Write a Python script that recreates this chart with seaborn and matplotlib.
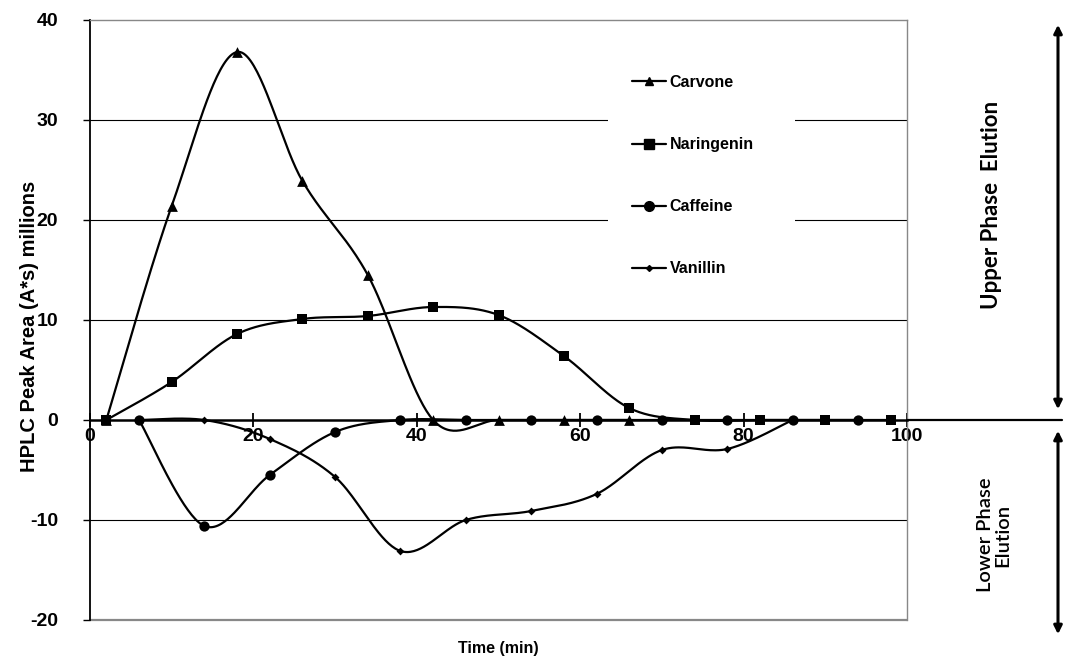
import numpy as np
import pandas as pd
import seaborn as sns
import matplotlib
matplotlib.use("Agg")
import matplotlib.pyplot as plt
from matplotlib.lines import Line2D
from matplotlib.patches import Rectangle
import matplotlib.transforms as mtransforms

# ---------------- data ----------------
carvone_t = [2, 10, 18, 26, 34, 42, 50, 58, 66]
carvone_v = [0, 21.4, 36.8, 23.9, 14.5, 0, 0, 0, 0]

naringenin_t = [2, 10, 18, 26, 34, 42, 50, 58, 66, 74, 82, 90, 98]
naringenin_v = [0, 3.8, 8.6, 10.1, 10.4, 11.3, 10.5, 6.4, 1.2, 0, 0, 0, 0]

caffeine_t = [6, 14, 22, 30, 38, 46, 54, 62, 70, 78, 86, 94]
caffeine_v = [0, -10.6, -5.5, -1.2, 0, 0, 0, 0, 0, 0, 0, 0]

vanillin_t = [6, 14, 22, 30, 38, 46, 54, 62, 70, 78, 86]
vanillin_v = [0, 0, -1.9, -5.7, -13.1, -10.0, -9.1, -7.4, -3.0, -2.9, 0]

series_names = ["Carvone", "Naringenin", "Caffeine", "Vanillin"]
x_ticks = [0, 20, 40, 60, 80, 100]
y_ticks = [-20, -10, 0, 10, 20, 30, 40]

# ---------------- style ----------------
sns.set_theme(style="white")
plt.rcParams["font.family"] = ["Liberation Sans", "DejaVu Sans"]
plt.rcParams["font.weight"] = "bold"
plt.rcParams["text.color"] = "black"
plt.rcParams["axes.labelcolor"] = "black"
plt.rcParams["xtick.color"] = "black"
plt.rcParams["ytick.color"] = "black"

W, H = 1089, 666
fig = plt.figure(figsize=(W / 100, H / 100), dpi=100)
L, R, T, B = 90, 907, 20, 620
ax = fig.add_axes([L / W, 1 - B / H, (R - L) / W, (B - T) / H])


def smooth(xs, ys, n=40):
    """Excel-style smoothed line through the points (Bezier / Catmull-Rom)."""
    P = np.column_stack([xs, ys]).astype(float)
    Pe = np.vstack([P[0], P, P[-1]])
    out = []
    for i in range(1, len(Pe) - 2):
        p0, p1, p2, p3 = Pe[i - 1], Pe[i], Pe[i + 1], Pe[i + 2]
        c1 = p1 + (p2 - p0) / 6.0
        c2 = p2 - (p3 - p1) / 6.0
        t = np.linspace(0, 1, n)[:, None]
        seg = ((1 - t) ** 3) * p1 + 3 * ((1 - t) ** 2) * t * c1 + 3 * (1 - t) * t ** 2 * c2 + t ** 3 * p2
        out.append(seg if i == 1 else seg[1:])
    s = np.vstack(out)
    return s[:, 0], s[:, 1]


series = [
    (carvone_t, carvone_v, "^", 60),
    (naringenin_t, naringenin_v, "s", 60),
    (caffeine_t, caffeine_v, "o", 55),
    (vanillin_t, vanillin_v, "D", 16),
]

for (tx, vy, mk, sz), name in zip(series, series_names):
    sx, sy = smooth(tx, vy)
    sns.lineplot(x=sx, y=sy, sort=False, ax=ax, color="black", lw=1.6, zorder=3)
    sns.scatterplot(x=tx, y=vy, ax=ax, marker=mk, s=sz, color="black",
                    edgecolor="black", linewidth=0, zorder=4)

ax.set_xlim(0, 100)
ax.set_ylim(-20, 40)
ax.set_xticks(x_ticks)
ax.set_yticks(y_ticks)
ax.set_xticklabels([str(v) for v in x_ticks])
ax.set_yticklabels([str(v) for v in y_ticks])

# gridlines
for yv in y_ticks:
    if yv not in (0, -20, 40):
        ax.axhline(yv, color="black", lw=0.8, zorder=0.5)

# spines
ax.spines["bottom"].set_position(("data", 0))
ax.spines["bottom"].set_color("black")
ax.spines["bottom"].set_linewidth(1.8)
ax.spines["bottom"].set_zorder(2.5)
ax.spines["left"].set_color("black")
ax.spines["left"].set_linewidth(1.3)
ax.spines["top"].set_color("#888888")
ax.spines["right"].set_color("#888888")
ax.spines["top"].set_linewidth(1.0)
ax.spines["right"].set_linewidth(1.0)
ax.axhline(-20, color="#888888", lw=1.6, zorder=0.5, clip_on=False)

ax.tick_params(axis="x", direction="inout", length=10, width=1.3, color="black",
               labelcolor="black", labelsize=14, pad=1, bottom=True)
ax.tick_params(axis="y", direction="out", length=5, width=1.0, color="black",
               labelcolor="black", labelsize=14, pad=18, left=True)
for lab in ax.get_xticklabels() + ax.get_yticklabels():
    lab.set_fontweight("bold")

ax.set_xlabel("Time (min)", fontsize=11.5, fontweight="bold", color="black")
ax.xaxis.set_label_coords(0.5, -0.035)
ax.set_ylabel("HPLC Peak Area (A*s) millions", fontsize=14.5, fontweight="bold",
              color="black")
ax.yaxis.set_label_coords(-0.063, 0.49)

# extension of zero line to the right
bt = mtransforms.blended_transform_factory(fig.transFigure, ax.transData)
fig.add_artist(Line2D([R / W, 1062 / W], [0, 0], transform=bt, color="black", lw=1.6))

# white box behind legend
fig.add_artist(Rectangle((608 / W, 1 - 300 / H), (795 - 608) / W, (300 - 40) / H,
                         transform=fig.transFigure, facecolor="white", edgecolor="none",
                         zorder=1))

handles = [
    Line2D([0], [0], color="black", lw=1.6, marker="^", markersize=6),
    Line2D([0], [0], color="black", lw=1.6, marker="s", markersize=7),
    Line2D([0], [0], color="black", lw=1.6, marker="o", markersize=7),
    Line2D([0], [0], color="black", lw=1.6, marker="D", markersize=3),
]
leg = fig.legend(handles, series_names, loc="upper left",
                 bbox_to_anchor=(624 / W, 1 - 67 / H), frameon=False,
                 prop={"weight": "bold", "size": 11.5}, handlelength=2.1,
                 handletextpad=0.25, labelspacing=2.95, borderpad=0)
for t in leg.get_texts():
    t.set_color("black")
leg.set_zorder(5)

# arrows and phase labels
arrow_x = 1058 / W
fig.add_artist(matplotlib.patches.FancyArrowPatch(
    (arrow_x, 1 - 22 / H), (arrow_x, 1 - 412 / H), transform=fig.transFigure,
    arrowstyle="<|-|>", mutation_scale=12, color="black", lw=2.2))
fig.add_artist(matplotlib.patches.FancyArrowPatch(
    (arrow_x, 1 - 428 / H), (arrow_x, 1 - 637 / H), transform=fig.transFigure,
    arrowstyle="<|-|>", mutation_scale=12, color="black", lw=2.2))

fig.text(991 / W, 1 - 205 / H, "Upper Phase  Elution", rotation=90, ha="center",
         va="center", fontsize=16, fontweight="bold", color="black",
         family=["Lato", "DejaVu Sans"])
fig.text(994 / W, 1 - 535 / H, "Lower Phase\nElution", rotation=90, ha="center",
         va="center", fontsize=14.5, fontweight="semibold", color="black",
         family=["Lato", "DejaVu Sans"], multialignment="center", linespacing=1.05)

fig.savefig("out.png", dpi=100)
